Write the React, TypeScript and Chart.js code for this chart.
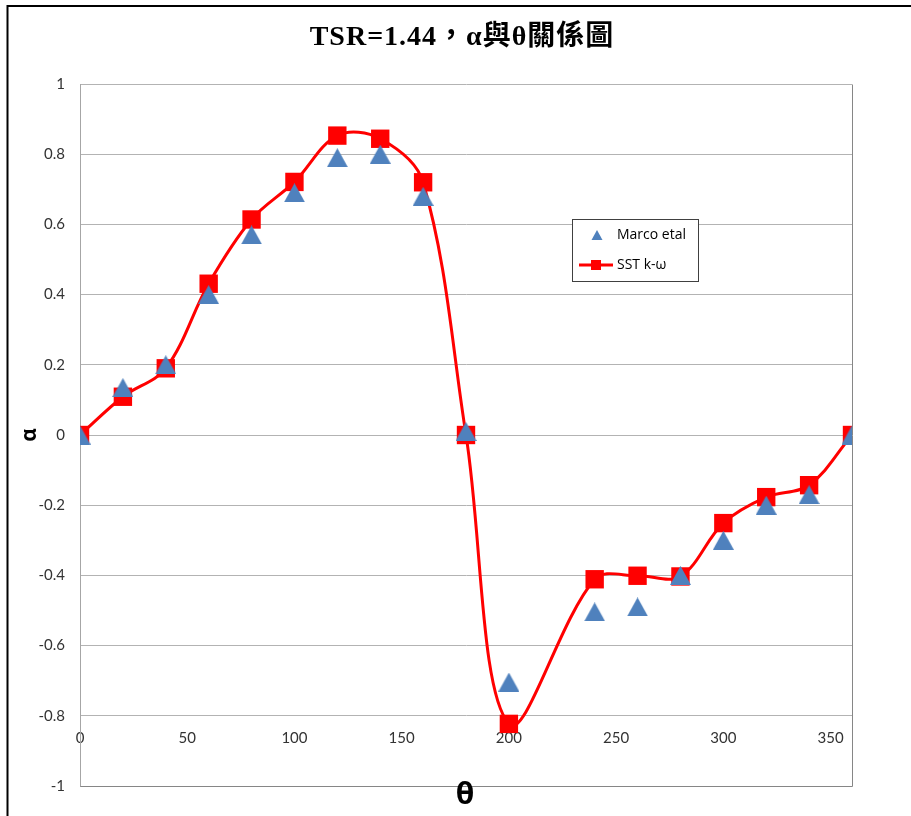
import React, { useEffect, useRef } from "react";
import { Chart, registerables } from "chart.js";

Chart.register(...registerables);

// ---- data ----
const thetaValues = [0, 20, 40, 60, 80, 100, 120, 140, 160, 180, 200, 240, 260, 280, 300, 320, 340, 360];
const marcoValues = [0, 0.135, 0.2, 0.4, 0.57, 0.69, 0.79, 0.8, 0.68, 0.01, -0.704, -0.504, -0.49, -0.4, -0.3, -0.2, -0.17, 0];
const sstValues = [0, 0.109, 0.19, 0.431, 0.614, 0.721, 0.853, 0.844, 0.72, 0, -0.823, -0.411, -0.401, -0.403, -0.251, -0.177, -0.143, 0];
const xTickValues = [0, 50, 100, 150, 200, 250, 300, 350];
const yTickValues = [-1, -0.8, -0.6, -0.4, -0.2, 0, 0.2, 0.4, 0.6, 0.8, 1];
const seriesNames = ["Marco etal", "SST k-ω"];
const titleText = "TSR=1.44，α與θ關係圖";
const xAxisTitle = "θ";
const yAxisTitle = "α";

const BLUE = "#4F81BD";
const RED = "#FF0000";

function makeTriangle(w: number, h: number, color: string) {
  const c = document.createElement("canvas");
  c.width = w;
  c.height = h;
  const g = c.getContext("2d")!;
  g.fillStyle = color;
  g.beginPath();
  g.moveTo(w / 2, 0);
  g.lineTo(w, h);
  g.lineTo(0, h);
  g.closePath();
  g.fill();
  return c;
}

const decorPlugin = {
  id: "decor",
  afterDraw(chart: any) {
    const ctx = chart.ctx as CanvasRenderingContext2D;
    const a = chart.chartArea;
    ctx.save();
    // outer border
    ctx.strokeStyle = "#000";
    ctx.lineWidth = 2;
    ctx.beginPath();
    ctx.moveTo(7.5, 816);
    ctx.lineTo(7.5, 6);
    ctx.lineTo(911, 6);
    ctx.stroke();
    // plot border right & bottom
    ctx.strokeStyle = "#868686";
    ctx.lineWidth = 1;
    ctx.beginPath();
    ctx.moveTo(Math.round(a.left) + 0.5, Math.round(a.bottom) + 0.5);
    ctx.lineTo(Math.round(a.right) + 0.5, Math.round(a.bottom) + 0.5);
    ctx.lineTo(Math.round(a.right) + 0.5, Math.round(a.top) + 0.5);
    ctx.stroke();
    // title
    ctx.fillStyle = "#000";
    ctx.textAlign = "center";
    ctx.textBaseline = "middle";
    ctx.font = 'bold 28px "Liberation Serif", "Noto Sans CJK TC", serif';
    (ctx as any).letterSpacing = "1px";
    ctx.fillText(titleText, 462, 38);
    (ctx as any).letterSpacing = "0px";
    // x axis title
    ctx.font = 'bold 30px "Open Sans", "DejaVu Sans", sans-serif';
    ctx.fillText(xAxisTitle, 465, 795);
    // y axis title
    ctx.save();
    ctx.translate(30, 435);
    ctx.rotate(-Math.PI / 2);
    ctx.font = 'bold 21px "Open Sans", "DejaVu Sans", sans-serif';
    ctx.fillText(yAxisTitle, 0, 0);
    ctx.restore();
    // legend
    const lx = 572, ly = 219, lw = 126, lh = 62;
    ctx.fillStyle = "#fff";
    ctx.fillRect(lx, ly, lw, lh);
    ctx.strokeStyle = "#404040";
    ctx.lineWidth = 1;
    ctx.strokeRect(lx + 0.5, ly + 0.5, lw, lh);
    // triangle
    ctx.fillStyle = BLUE;
    ctx.beginPath();
    ctx.moveTo(597, 230);
    ctx.lineTo(602.5, 240);
    ctx.lineTo(591.5, 240);
    ctx.closePath();
    ctx.fill();
    // line + square
    ctx.strokeStyle = RED;
    ctx.lineWidth = 3;
    ctx.beginPath();
    ctx.moveTo(579, 265);
    ctx.lineTo(613, 265);
    ctx.stroke();
    ctx.fillStyle = RED;
    ctx.fillRect(591, 260, 10, 10);
    ctx.fillStyle = "#000";
    ctx.textAlign = "left";
    ctx.font = '14px "Open Sans", "DejaVu Sans", sans-serif';
    ctx.fillText(seriesNames[0], 617, 235);
    ctx.fillText(seriesNames[1], 617, 265);
    ctx.restore();
  },
};

export default function App() {
  const ref = useRef<HTMLCanvasElement | null>(null);
  useEffect(() => {
    if (!ref.current) return;
    const tri = makeTriangle(21, 19, BLUE);
    const chart = new Chart(ref.current, {
      type: "line",
      data: {
        datasets: [
          {
            label: seriesNames[0],
            data: thetaValues.map((x, i) => ({ x, y: marcoValues[i] })),
            showLine: false,
            pointStyle: tri as any,
            pointRadius: 10,
            backgroundColor: BLUE,
            borderColor: BLUE,
          },
          {
            label: seriesNames[1],
            data: thetaValues.map((x, i) => ({ x, y: sstValues[i] })),
            showLine: true,
            borderColor: RED,
            borderWidth: 3,
            tension: 0.35,
            pointStyle: "rect",
            pointRadius: 13,
            pointBorderWidth: 0,
            pointBackgroundColor: RED,
            backgroundColor: RED,
          },
        ],
      },
      options: {
        responsive: false,
        animation: false,
        events: [],
        layout: { padding: { left: 0, top: 84, right: 59, bottom: 30 } },
        plugins: { legend: { display: false }, tooltip: { enabled: false }, title: { display: false } },
        scales: {
          x: {
            type: "linear",
            position: { y: -0.8 } as any,
            min: 0,
            max: 360,
            afterBuildTicks: (s: any) => {
              s.ticks = xTickValues.map((value) => ({ value }));
            },
            grid: { display: false, drawTicks: false },
            border: { display: false },
            ticks: {
              padding: 13,
              color: "#333",
              font: { family: "Lato, 'Open Sans', sans-serif", size: 15 },
              maxRotation: 0,
              autoSkip: false,
            },
          },
          y: {
            type: "linear",
            min: -1,
            max: 1,
            afterBuildTicks: (s: any) => {
              s.ticks = yTickValues.map((value) => ({ value }));
            },
            afterFit: (s: any) => {
              s.width = 80;
            },
            grid: { color: "#B3B3B3", lineWidth: 1, drawTicks: false },
            border: { display: true, color: "#A6A6A6", width: 1 },
            ticks: {
              padding: 15,
              color: "#333",
              font: { family: "Lato, 'Open Sans', sans-serif", size: 15 },
              callback: (v: any) => String(Math.round(Number(v) * 10) / 10),
            },
          },
        },
      },
      plugins: [decorPlugin],
    });
    return () => chart.destroy();
  }, []);
  return (
    <div style={{ position: "fixed", left: 0, top: 0, width: 911, height: 816, background: "#fff" }}>
      <canvas ref={ref} width={911} height={816} />
    </div>
  );
}
